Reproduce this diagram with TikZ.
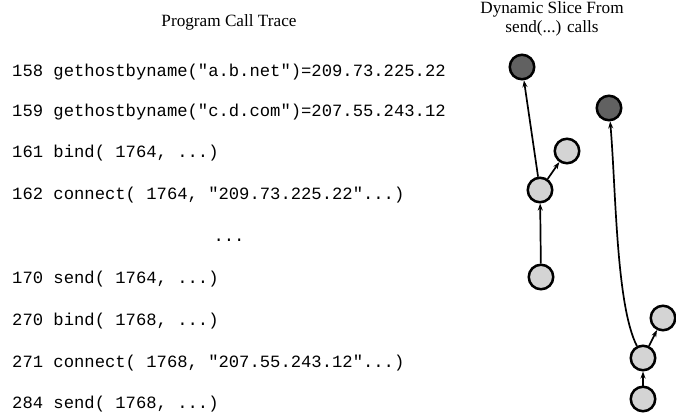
\documentclass[tikz,border=0pt]{standalone}
\usepackage{fontspec}
\setmainfont{Liberation Serif}
\newfontfamily\codefont{Liberation Mono}
\usetikzlibrary{arrows.meta}
\begin{document}
\begin{tikzpicture}[x=1pt,y=-1pt,
  code/.style={font=\codefont\fontsize{17.2}{20}\selectfont, anchor=base west, inner sep=0pt},
  ttl/.style={font=\fontsize{17.2}{18.5}\selectfont, align=center, inner sep=0pt},
  vtx/.style={circle, draw=black, line width=2.5pt, minimum size=24.5pt, inner sep=0pt},
  dark/.style={vtx, fill=black!62},
  light/.style={vtx, fill=black!17},
  edge/.style={line width=1.7pt, -{Stealth[length=7pt,width=5pt]}}
]
\useasboundingbox (0,0) rectangle (676,419);

% titles
\node[ttl] (t1) at (229,22) {Program Call Trace};
\node[ttl] (t2) at (552,19) {Dynamic Slice From\\send(...) calls};

% trace lines
\node[code] (l1) at (12,77)  {158 gethostbyname("a.b.net")=209.73.225.22};
\node[code] (l2) at (12,117) {159 gethostbyname("c.d.com")=207.55.243.12};
\node[code] (l3) at (12,158) {161 bind( 1764, ...)};
\node[code] (l4) at (12,200) {162 connect( 1764, "209.73.225.22"...)};
\node[code, anchor=base] (l5) at (229,242) {...};
\node[code] (l6) at (12,283) {170 send( 1764, ...)};
\node[code] (l7) at (12,325) {270 bind( 1768, ...)};
\node[code] (l8) at (12,367) {271 connect( 1768, "207.55.243.12"...)};
\node[code] (l9) at (12,408) {284 send( 1768, ...)};

% slice graph
\node[dark]  (A) at (522,67)  {};
\node[dark]  (B) at (609,108) {};
\node[light] (C) at (567,151) {};
\node[light] (D) at (540,190) {};
\node[light] (E) at (541,277) {};
\node[light] (F) at (663,318) {};
\node[light] (G) at (643,358) {};
\node[light] (H) at (643,399) {};

\draw[edge] (D) -- (A);
\draw[edge] (D) -- (C);
\draw[edge] (E) -- (D);
\draw[edge] (G) .. controls (616,305) and (616,190) .. (B);
\draw[edge] (G) -- (F);
\draw[edge] (H) -- (G);
\end{tikzpicture}
\end{document}
